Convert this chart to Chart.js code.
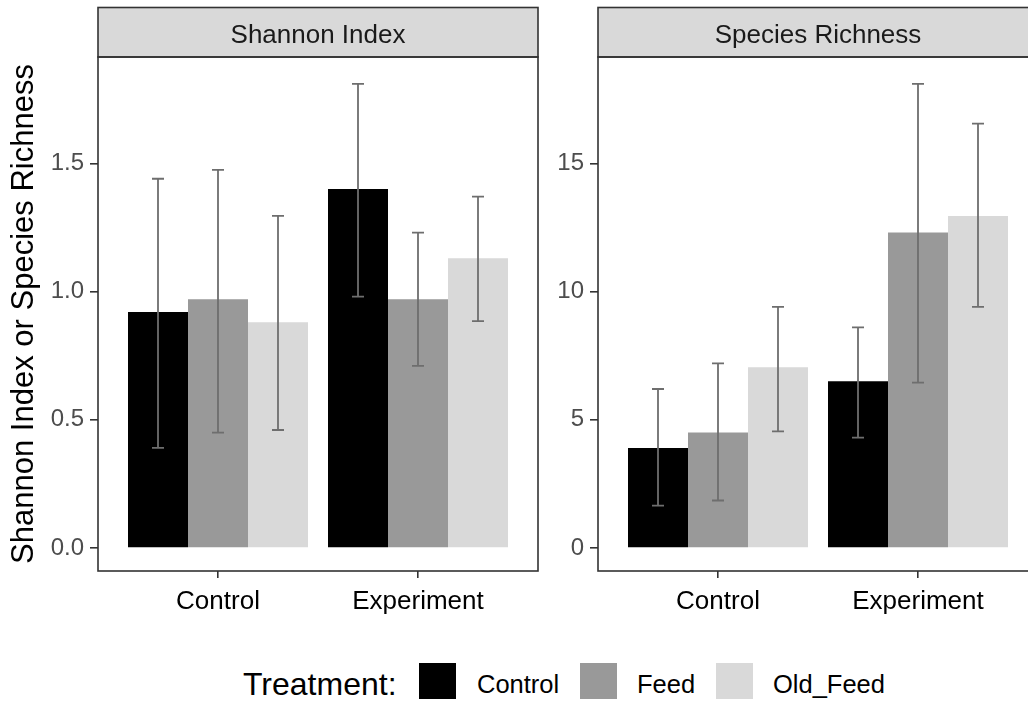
<!DOCTYPE html>
<html>
<head>
<meta charset="utf-8">
<title>Shannon Index and Species Richness</title>
<script src="https://cdn.jsdelivr.net/npm/chart.js@4.4.0/dist/chart.umd.min.js"></script>
<style>
  body { margin: 0; background: #fff; overflow: hidden; width: 1028px; height: 702px; position: relative; font-family: "Liberation Sans", Arial, sans-serif; }
  canvas { position: absolute; top: 0; }
  #shannonChart { left: 0; }
  #richnessChart { left: 540px; }
  .legend { position: absolute; color: #000; white-space: nowrap; line-height: 1; }
  .key { position: absolute; width: 37px; height: 36px; top: 663px; }
</style>
</head>
<body>
<canvas id="shannonChart" width="560" height="640"></canvas>
<canvas id="richnessChart" width="540" height="640"></canvas>

<div class="legend" style="left:243px; top:668px; font-size:32px;">Treatment:</div>
<div class="key" style="left:419px; background:#000000;"></div>
<div class="legend" style="left:477px; top:672px; font-size:25.5px;">Control</div>
<div class="key" style="left:580px; background:#999999;"></div>
<div class="legend" style="left:637px; top:672px; font-size:25.5px;">Feed</div>
<div class="key" style="left:716px; background:#D9D9D9;"></div>
<div class="legend" style="left:773px; top:672px; font-size:25.5px;">Old_Feed</div>

<script>
var groups = ["Control", "Experiment"];
var treatments = ["Control", "Feed", "Old_Feed"];
var treatmentColors = ["#000000", "#999999", "#D9D9D9"];

// Shannon Index: mean, lower and upper error per group
var shannonControl = [0.92, 1.40];
var shannonFeed = [0.97, 0.97];
var shannonOldFeed = [0.88, 1.13];
var shannonControlLow = [0.39, 0.98];
var shannonControlHigh = [1.44, 1.81];
var shannonFeedLow = [0.45, 0.71];
var shannonFeedHigh = [1.475, 1.23];
var shannonOldFeedLow = [0.46, 0.885];
var shannonOldFeedHigh = [1.295, 1.37];
var shannonTicks = [0, 0.5, 1.0, 1.5];
var shannonTickLabels = ["0.0", "0.5", "1.0", "1.5"];

// Species Richness
var richnessControl = [3.9, 6.5];
var richnessFeed = [4.5, 12.3];
var richnessOldFeed = [7.05, 12.95];
var richnessControlLow = [1.65, 4.3];
var richnessControlHigh = [6.2, 8.6];
var richnessFeedLow = [1.85, 6.45];
var richnessFeedHigh = [7.2, 18.1];
var richnessOldFeedLow = [4.55, 9.4];
var richnessOldFeedHigh = [9.4, 16.55];
var richnessTicks = [0, 5, 10, 15];
var richnessTickLabels = ["0", "5", "10", "15"];

var fontFamily = '"Liberation Sans", Arial, sans-serif';

function makePanel(canvasId, stripText, means, lows, highs, yMin, yMax, yTicks, yTickLabels, yAxisWidth, padRight, yTitle) {
    var panelPlugin = {
        id: 'panel',
        afterDraw: function(chart) {
            var ctx = chart.ctx;
            var a = chart.chartArea;
            ctx.save();
            // strip
            ctx.fillStyle = '#D9D9D9';
            ctx.fillRect(a.left, 7.5, a.right - a.left, a.top - 7.5);
            ctx.strokeStyle = '#333333';
            ctx.lineWidth = 1.6;
            ctx.strokeRect(a.left, 7.5, a.right - a.left, a.top - 7.5);
            ctx.fillStyle = '#1A1A1A';
            ctx.font = '26px ' + fontFamily;
            ctx.textAlign = 'center';
            ctx.textBaseline = 'middle';
            ctx.fillText(stripText, (a.left + a.right) / 2, (a.top + 7.5) / 2 + 4);
            // panel border
            ctx.strokeRect(a.left, a.top, a.right - a.left, a.bottom - a.top);
            ctx.restore();
        }
    };

    var errorBarPlugin = {
        id: 'errorBars',
        afterDatasetsDraw: function(chart) {
            var ctx = chart.ctx;
            var yScale = chart.scales.y;
            ctx.save();
            ctx.strokeStyle = '#6E6E6E';
            ctx.lineWidth = 1.8;
            for (var d = 0; d < chart.data.datasets.length; d++) {
                var meta = chart.getDatasetMeta(d);
                meta.data.forEach(function(bar, j) {
                    var x = bar.x;
                    var yLo = yScale.getPixelForValue(lows[d][j]);
                    var yHi = yScale.getPixelForValue(highs[d][j]);
                    ctx.beginPath();
                    ctx.moveTo(x, yLo);
                    ctx.lineTo(x, yHi);
                    ctx.moveTo(x - 6, yLo);
                    ctx.lineTo(x + 6, yLo);
                    ctx.moveTo(x - 6, yHi);
                    ctx.lineTo(x + 6, yHi);
                    ctx.stroke();
                });
            }
            ctx.restore();
        }
    };

    var datasets = treatments.map(function(t, i) {
        return {
            label: t,
            data: groups.map(function(g, j) { return { x: j + 1, y: means[i][j] }; }),
            backgroundColor: treatmentColors[i],
            borderWidth: 0,
            categoryPercentage: 0.9,
            barPercentage: 1.0
        };
    });

    return new Chart(document.getElementById(canvasId), {
        type: 'bar',
        data: { datasets: datasets },
        options: {
            responsive: false,
            animation: false,
            devicePixelRatio: 1,
            layout: { padding: { top: 57, right: padRight, bottom: 0, left: 0 } },
            plugins: {
                legend: { display: false },
                tooltip: { enabled: false }
            },
            scales: {
                x: {
                    type: 'linear',
                    min: 0.4,
                    max: 2.6,
                    offset: false,
                    afterBuildTicks: function(s) { s.ticks = groups.map(function(g, j) { return { value: j + 1 }; }); },
                    afterFit: function(s) { s.height = 69; },
                    ticks: {
                        callback: function(v, i) { return groups[i]; },
                        font: { size: 26, family: fontFamily },
                        color: '#000000',
                        padding: 8,
                        maxRotation: 0,
                        autoSkip: false
                    },
                    grid: { offset: false, drawOnChartArea: false, tickLength: 7, color: '#333333', lineWidth: 1.6 },
                    border: { display: false }
                },
                y: {
                    min: yMin,
                    max: yMax,
                    afterBuildTicks: function(s) { s.ticks = yTicks.map(function(v) { return { value: v }; }); },
                    afterFit: function(s) { s.width = yAxisWidth; },
                    ticks: {
                        callback: function(v, i) { return yTickLabels[i]; },
                        font: { size: 24, family: fontFamily },
                        color: '#4D4D4D',
                        padding: 6
                    },
                    grid: { drawOnChartArea: false, tickLength: 8, color: '#333333', lineWidth: 1.6 },
                    border: { display: false },
                    title: {
                        display: !!yTitle,
                        text: yTitle || '',
                        font: { size: 31, family: fontFamily },
                        color: '#000000',
                        padding: { top: 6, bottom: 0 }
                    }
                }
            }
        },
        plugins: [panelPlugin, errorBarPlugin]
    });
}

makePanel('shannonChart', 'Shannon Index',
    [shannonControl, shannonFeed, shannonOldFeed],
    [shannonControlLow, shannonFeedLow, shannonOldFeedLow],
    [shannonControlHigh, shannonFeedHigh, shannonOldFeedHigh],
    -0.09, 1.915, shannonTicks, shannonTickLabels, 98, 22,
    'Shannon Index or Species Richness');

makePanel('richnessChart', 'Species Richness',
    [richnessControl, richnessFeed, richnessOldFeed],
    [richnessControlLow, richnessFeedLow, richnessOldFeedLow],
    [richnessControlHigh, richnessFeedHigh, richnessOldFeedHigh],
    -0.9, 19.15, richnessTicks, richnessTickLabels, 58, 42,
    null);
</script>
</body>
</html>
